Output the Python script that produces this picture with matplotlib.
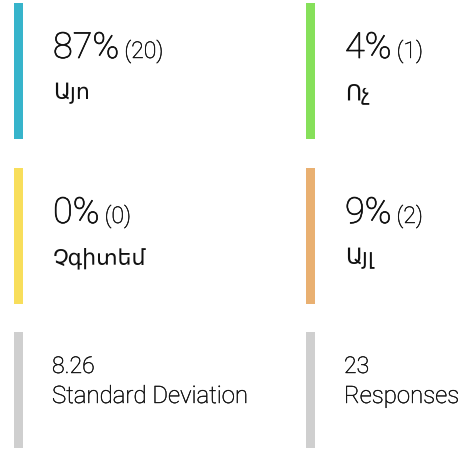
import matplotlib
matplotlib.use("Agg")
import matplotlib.pyplot as plt
import matplotlib.transforms as mtrans
import matplotlib.patheffects as pe

# Data
categories = ["Այո", "Ոչ", "Չգիտեմ", "Այլ"]
percents = [87, 4, 0, 9]
counts = [20, 1, 0, 2]
colors = ["#37B4CB", "#86E05A", "#F8DE5B", "#E9B071"]
stat_values = ["8.26", "23"]
stat_labels = ["Standard Deviation", "Responses"]
stat_color = "#CFCFCF"

W, H = 466, 450
fig = plt.figure(figsize=(W / 100, H / 100), dpi=100)
ax = fig.add_axes([0, 0, 1, 1])
ax.set_xlim(0, W)
ax.set_ylim(H, 0)
ax.axis("off")

fam = ["Roboto", "DejaVu Sans"]
arm_fam = ["DejaVu Sans"]
txt = "#111111"
wt = "light"
thick = [pe.withStroke(linewidth=0.5, foreground=txt)]
thin = [pe.withStroke(linewidth=0.3, foreground=txt)]
pt = 72 / 100  # px -> pt

col_x = [14, 306]
text_x = [53, 345]
row_top = [3, 168, 332]
bar_h = [136, 136, 116]
bar_w = 9

blend = mtrans.blended_transform_factory(mtrans.IdentityTransform(), ax.transData)

for i, cat in enumerate(categories):
    r, c = divmod(i, 2)
    ax.bar(col_x[c], bar_h[r], bottom=row_top[r], width=bar_w, align="edge",
           color=colors[i], linewidth=0)
    y0 = row_top[r]
    t = ax.text(text_x[c], y0 + 55, f"{percents[i]}%", fontsize=36 * pt,
                family=fam, weight=wt, color=txt, va="baseline", ha="left",
                path_effects=thick)
    fig.canvas.draw()
    bb = t.get_window_extent()
    ax.text(bb.x1 + 5, y0 + 55, f"({counts[i]})", fontsize=23 * pt,
            family=fam, weight=wt, color=txt, va="baseline", ha="left",
            transform=blend, path_effects=thin)
    ax.text(text_x[c], y0 + 96, cat, fontsize=22 * pt, family=arm_fam,
            weight="normal", color=txt, va="baseline", ha="left")

for j in range(2):
    r = 2
    ax.bar(col_x[j], bar_h[r], bottom=row_top[r], width=bar_w, align="edge",
           color=stat_color, linewidth=0)
    ax.text(text_x[j] - 1, row_top[r] + 41, stat_values[j], fontsize=23 * pt,
            family=fam, weight=wt, color=txt, va="baseline", ha="left",
            path_effects=thin)
    ax.text(text_x[j] - 1, row_top[r] + 71, stat_labels[j], fontsize=24 * pt,
            family=fam, weight=wt, color=txt, va="baseline", ha="left",
            path_effects=thin)

fig.savefig("out.png", dpi=100)
